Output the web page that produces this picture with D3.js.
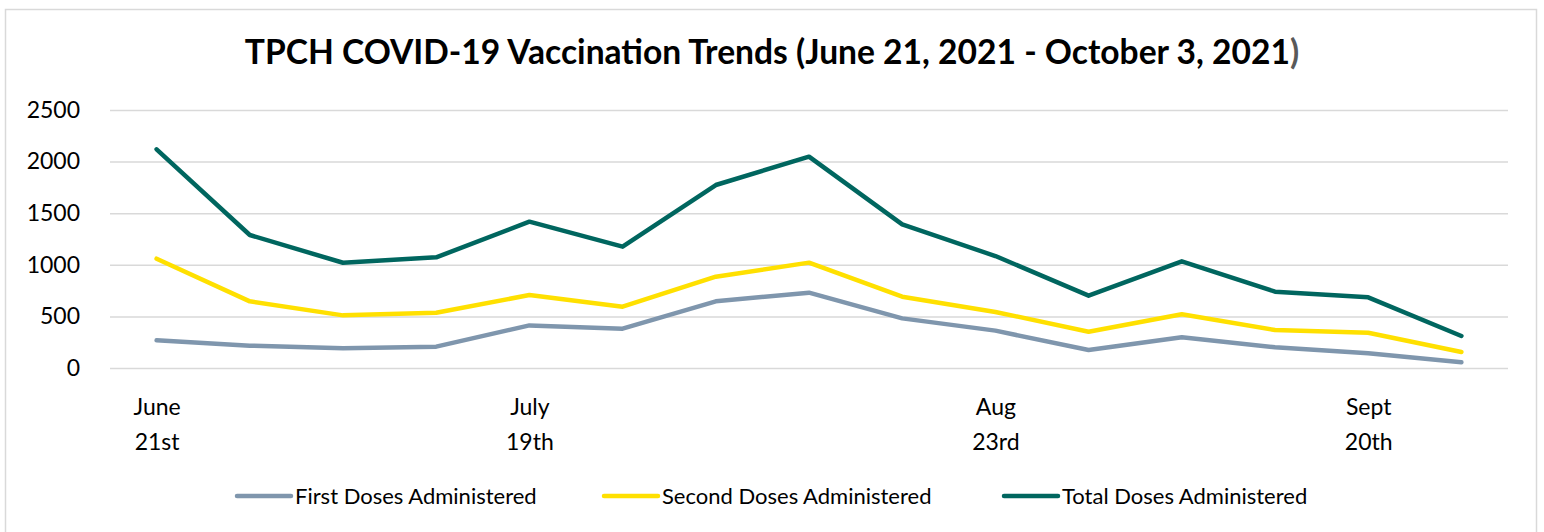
<!DOCTYPE html>
<html>
<head>
<meta charset="utf-8">
<script src="https://cdn.jsdelivr.net/npm/d3@7"></script>
<style>
  body { margin: 0; background: #fff; }
  text { font-family: Lato, "Open Sans", sans-serif; }
</style>
</head>
<body>
<div id="chart_area"></div>
<script>
// weekly data, June 21 2021 .. Sept 27 2021
var weeks = ["Jun 21", "Jun 28", "Jul 5", "Jul 12", "Jul 19", "Jul 26", "Aug 2", "Aug 9",
    "Aug 16", "Aug 23", "Aug 30", "Sep 6", "Sep 13", "Sep 20", "Sep 27"];
var firstDoses = [268, 216, 192, 207, 413, 381, 646, 730, 481, 362, 174, 297, 200, 142, 55];
var secondDoses = [1059, 646, 510, 536, 707, 594, 885, 1021, 691, 543, 352, 520, 368, 342, 155];
var totalDoses = [2119, 1289, 1020, 1072, 1418, 1176, 1773, 2048, 1392, 1085, 701, 1034, 740, 685, 310];
// shown category labels (two lines)
var tickLabels = { "Jun 21": ["June", "21st"], "Jul 19": ["July", "19th"],
    "Aug 23": ["Aug", "23rd"], "Sep 20": ["Sept", "20th"] };
var yTicks = [0, 500, 1000, 1500, 2000, 2500];
var seriesNames = ["First Doses Administered", "Second Doses Administered", "Total Doses Administered"];
var seriesColors = ["#7f96ad", "#ffe000", "#00665f"];

var W = 1544, H = 532;
var margin = { top: 110, right: 36, bottom: 164, left: 110 },
    width = W - margin.left - margin.right,
    height = H - margin.top - margin.bottom;

var root = d3.select("#chart_area")
    .append("svg")
    .attr("width", W)
    .attr("height", H);

// chart frame
root.append("rect")
    .attr("x", 5.5).attr("y", 9.5)
    .attr("width", 1531).attr("height", 540)
    .attr("fill", "#fff")
    .attr("stroke", "#d9d9d9")
    .attr("stroke-width", 1.5);

// title
var title = root.append("text")
    .attr("x", 772)
    .attr("y", 64)
    .attr("text-anchor", "middle")
    .style("font-size", "30px")
    .style("font-weight", "bold")
    .attr("fill", "#000");
title.append("tspan").text("TPCH COVID-19 Vaccination Trends (June 21, 2021 - October 3, 2021");
title.append("tspan").attr("fill", "#595959").text(")");
// stretch to the width of the original title
var tw = title.node().getComputedTextLength();
title.style("font-size", (30 * 1055 / tw) + "px");

var svg = root.append("g")
    .attr("transform", "translate(" + margin.left + "," + margin.top + ")");

var x = d3.scalePoint()
    .domain(weeks)
    .range([0, width])
    .padding(0.5);

var y = d3.scaleLinear()
    .domain([0, 2500])
    .range([height, 0]);

// gridlines
svg.append("g")
    .call(d3.axisLeft(y).tickValues(yTicks).tickSize(-width).tickFormat(""))
    .call(function (g) { g.select(".domain").remove(); })
    .selectAll("line")
    .attr("stroke", "#d9d9d9")
    .attr("stroke-width", 1.5);

// y axis labels
svg.append("g")
    .attr("transform", "translate(-30,0)")
    .call(d3.axisLeft(y).tickValues(yTicks).tickSize(0).tickPadding(0).tickFormat(d3.format("d")))
    .call(function (g) { g.select(".domain").remove(); })
    .selectAll("text")
    .style("font-size", "23px")
    .attr("fill", "#000");

// x axis labels
var xAxis = svg.append("g")
    .attr("transform", "translate(0," + height + ")")
    .call(d3.axisBottom(x).tickSize(0).tickFormat(""));
xAxis.select(".domain").remove();
xAxis.selectAll(".tick").each(function (d) {
    if (!tickLabels[d]) return;
    var t = d3.select(this).append("text")
        .attr("text-anchor", "middle")
        .attr("fill", "#000")
        .style("font-size", "23px");
    t.append("tspan").attr("x", 0).attr("y", 47).text(tickLabels[d][0]);
    t.append("tspan").attr("x", 0).attr("y", 82).text(tickLabels[d][1]);
});

// lines
var line = d3.line()
    .x(function (d, i) { return x(weeks[i]); })
    .y(function (d) { return y(d); });

[firstDoses, secondDoses, totalDoses].forEach(function (vals, k) {
    svg.append("path")
        .datum(vals)
        .attr("fill", "none")
        .attr("stroke", seriesColors[k])
        .attr("stroke-width", 4.5)
        .attr("stroke-linejoin", "round")
        .attr("stroke-linecap", "round")
        .attr("d", line);
});

// legend
var legendX = [237, 604, 1004];
var legend = root.append("g");
seriesNames.forEach(function (name, k) {
    var g = legend.append("g").attr("transform", "translate(" + legendX[k] + ",496)");
    g.append("line")
        .attr("x1", 0).attr("x2", 54)
        .attr("stroke", seriesColors[k])
        .attr("stroke-width", 4.5)
        .attr("stroke-linecap", "round");
    g.append("text")
        .attr("x", 58)
        .attr("y", 7.5)
        .style("font-size", "22px")
        .attr("fill", "#000")
        .text(name);
});
</script>
</body>
</html>
